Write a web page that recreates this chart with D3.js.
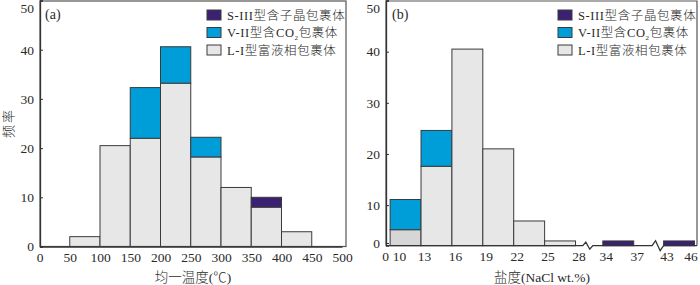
<!DOCTYPE html>
<html>
<head>
<meta charset="utf-8">
<script src="https://cdn.jsdelivr.net/npm/d3@7"></script>
<style>
  body { margin: 0; background: #fff; }
  svg text { font-family: "Liberation Serif", "Noto Sans CJK SC", serif; fill: #2a2a2a; font-weight: 300; }
</style>
</head>
<body>
<svg id="chart" width="700" height="285"></svg>
<script>
// (a) homogenisation temperature, bins of 50 C
const tempStarts = [50, 100, 150, 200, 250, 300, 350, 400];
const tempL = [2, 20.5, 22, 33.2, 18.2, 12, 8, 3];
const tempV = [0, 0, 10.3, 7.4, 4, 0, 0, 0];
const tempS = [0, 0, 0, 0, 0, 0, 2, 0];
const tempTicks = [0, 50, 100, 150, 200, 250, 300, 350, 400, 450, 500];

// (b) salinity, bins of 3 wt.% (axis broken after 28 and after 37)
const salStarts = [10, 13, 16, 19, 22, 25, 34, 43];
const salL = [5.2, 17.6, 40.5, 21.0, 6.9, 3.0, 0, 0];
const salV = [5.9, 7.0, 0, 0, 0, 0, 0, 0];
const salS = [0, 0, 0, 0, 0, 0, 3.0, 3.0];
const salTicks = [0, 10, 13, 16, 19, 22, 25, 28, 34, 37, 43, 46];

const yTicks = [0, 10, 20, 30, 40, 50];
const legendItems = ["S-III型含子晶包裹体", "V-II型含CO2包裹体", "L-I型富液相包裹体"];

const colS = "#3a2172", colV = "#009ed8", colL = "#e7e7e7", colL0 = "#d6d6d6";
const edge = "#3a3a3a";

const svg = d3.select("#chart");

function drawBars(g, starts, binW, x, y, series) {
    starts.forEach((s, i) => {
        let base = 0;
        series.forEach(({vals, color}) => {
            const v = vals[i];
            if (v <= 0) return;
            const y1 = y(base + v);
            const bottom = base === 0 ? y.range()[0] : y(base);
            g.append("rect")
                .attr("x", x(s))
                .attr("y", y1)
                .attr("width", x(s + binW) - x(s))
                .attr("height", bottom - y1)
                .attr("fill", typeof color === "function" ? color(i) : color)
                .attr("stroke", edge)
                .attr("stroke-width", 1);
            base += v;
        });
    });
}

function drawLegend(right) {
    const lx = right - 139;
    const g = svg.append("g");
    const cols = [colS, colV, colL];
    legendItems.forEach((t, i) => {
        const top = 10 + i * 17.5;
        g.append("rect")
            .attr("x", lx).attr("y", top)
            .attr("width", 14).attr("height", 10)
            .attr("fill", cols[i]).attr("stroke", edge).attr("stroke-width", 1);
        const txt = g.append("text")
            .attr("x", lx + 20).attr("y", top + 9.5)
            .style("font-size", "12.5px")
            .style("letter-spacing", "0.6px");
        if (t.includes("CO2")) {
            const [a, b] = t.split("CO2");
            txt.append("tspan").text(a + "CO");
            txt.append("tspan").text("2").style("font-size", "7px").attr("dy", 2.5);
            txt.append("tspan").text(b).attr("dy", -2.5);
        } else {
            txt.text(t);
        }
    });
}

function frame(p) {
    svg.append("rect")
        .attr("x", p.left).attr("y", p.top)
        .attr("width", p.right - p.left).attr("height", p.bottom - p.top)
        .attr("fill", "none").attr("stroke", "#555").attr("stroke-width", 1.2);
}

function styleY(g) {
    g.select(".domain").attr("stroke", "#333").attr("stroke-width", 1.3);
    g.selectAll(".tick line").attr("stroke", "#333");
    g.selectAll("text").style("font-size", "13.5px").style("font-family", "Liberation Serif")
        .attr("dy", v => v === 50 ? "0.9em" : "0.32em");
}

// ---------- panel (a) ----------
const pa = {left: 40, right: 346, top: 1, bottom: 246.5};
const xA = d3.scaleLinear().domain([0, 500]).range([39.5, 342]);
const yA = d3.scaleLinear().domain([0, 50]).range([pa.bottom, pa.top - 0.5]);

drawBars(svg.append("g"), tempStarts, 50, xA, yA, [
    {vals: tempL, color: colL},
    {vals: tempV, color: colV},
    {vals: tempS, color: colS}
]);
frame(pa);

svg.append("g")
    .attr("transform", `translate(${pa.left},0)`)
    .call(d3.axisLeft(yA).tickValues(yTicks).tickSize(-3).tickPadding(6))
    .call(styleY);

svg.append("g")
    .attr("transform", `translate(0,${pa.bottom})`)
    .call(d3.axisBottom(xA).tickValues(tempTicks).tickSize(0).tickPadding(6))
    .call(g => g.select(".domain").attr("stroke", "#333").attr("stroke-width", 1.3))
    .call(g => g.selectAll("text").style("font-size", "13.5px").style("font-family", "Liberation Serif"));

svg.append("text").attr("x", 45).attr("y", 19).style("font-size", "14px").text("(a)");
svg.append("text").attr("x", 193).attr("y", 282).attr("text-anchor", "middle")
    .style("font-size", "13.5px").text("均一温度(℃)");
svg.append("text")
    .attr("transform", "translate(13,123) rotate(-90)")
    .attr("text-anchor", "middle")
    .style("font-size", "13px").style("letter-spacing", "2px")
    .text("频率");
drawLegend(pa.right);

// ---------- panel (b) ----------
const pb = {left: 386, right: 697, top: 1, bottom: 245.7};
const unit = 10.3;
const xB = d3.scaleLinear()
    .domain([0, 10, 28, 34, 37, 43, 46])
    .range([0, 0.4, 18.4, 21.05, 24.05, 26.95, 29.95].map(u => pb.left + u * unit));
const bFloor = 2.07;   // the (b) axis line sits a little above zero on its own scale
const yB = d3.scaleLinear().domain([bFloor, 50]).range([pb.bottom, pb.top - 0.5]);

drawBars(svg.append("g"), salStarts, 3, xB, yB, [
    {vals: salL, color: i => i === 0 ? colL0 : colL},
    {vals: salV, color: colV},
    {vals: salS, color: colS}
]);

// frame without bottom edge (bottom is the broken axis)
svg.append("path")
    .attr("d", `M${pb.left},${pb.bottom}V${pb.top}H${pb.right}V${pb.bottom}`)
    .attr("fill", "none").attr("stroke", "#555").attr("stroke-width", 1.2);

// broken x axis line with zigzags
const breaks = [[29.6, 31.8, 3.5], [40.7, 43, 5]];
let d = `M${pb.left},${pb.bottom}`;
breaks.forEach(([a, b, h]) => {
    const xa = xB(a), xb = xB(b), w = xb - xa;
    d += `L${xa},${pb.bottom}L${xa + w * 0.3},${pb.bottom - h}L${xa + w * 0.7},${pb.bottom + h}L${xb},${pb.bottom}`;
});
d += `L${pb.right},${pb.bottom}`;
svg.append("path").attr("d", d).attr("fill", "none").attr("stroke", "#333").attr("stroke-width", 1.3);

const zeroLabelAt = 2.6;
svg.append("g")
    .attr("transform", `translate(${pb.left},0)`)
    .call(d3.axisLeft(yB).tickValues([zeroLabelAt, 10, 20, 30, 40, 50])
        .tickFormat(v => v === zeroLabelAt ? "0" : v).tickSize(-3).tickPadding(6))
    .call(styleY);

svg.append("g")
    .attr("transform", `translate(0,${pb.bottom})`)
    .call(d3.axisBottom(xB).tickValues(salTicks).tickSize(0).tickPadding(6))
    .call(g => g.select(".domain").remove())
    .call(g => g.selectAll("text")
        .style("font-size", "13.5px").style("font-family", "Liberation Serif")
        .attr("dx", v => v === 0 ? -1 : v === 10 ? 9 : v === 46 ? -4 : 3));

svg.append("text").attr("x", 392).attr("y", 19).style("font-size", "14px").text("(b)");
svg.append("text").attr("x", 542).attr("y", 282).attr("text-anchor", "middle")
    .style("font-size", "13.5px").text("盐度(NaCl wt.%)");
drawLegend(pb.right);
</script>
</body>
</html>
